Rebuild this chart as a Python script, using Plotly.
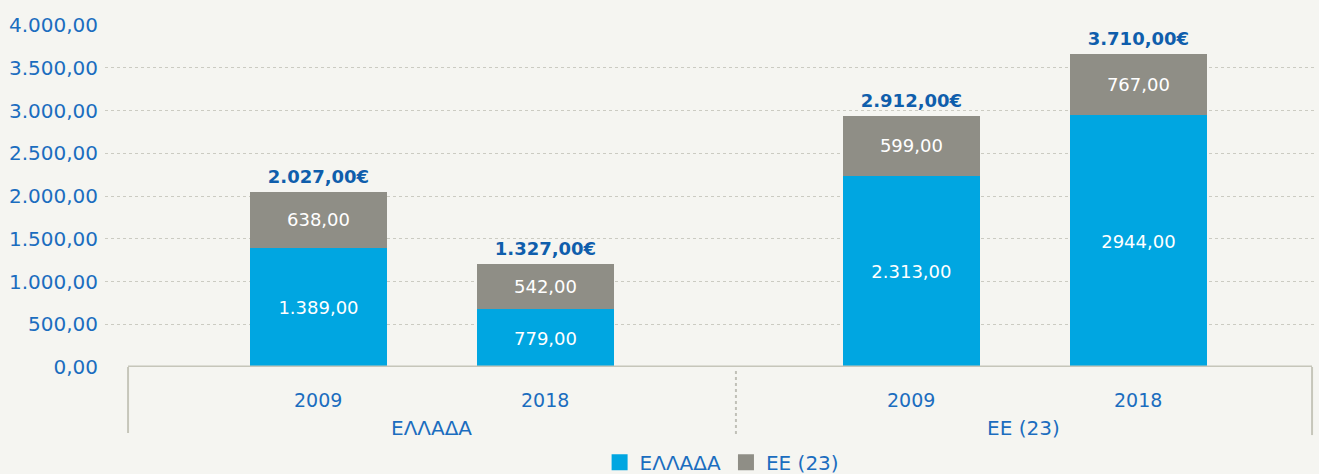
import plotly.graph_objects as go

# ---- data ----
groups = ["ΕΛΛΑΔΑ", "ΕΕ (23)"]
years = ["2009", "2018"]
series_names = ["ΕΛΛΑΔΑ", "ΕΕ (23)"]
# bar segment heights as drawn in the reference (order: ΕΛΛΑΔΑ 2009, ΕΛΛΑΔΑ 2018, ΕΕ 2009, ΕΕ 2018)
greece_part = [1393, 676, 2237, 2947]
eu_part = [653, 527, 699, 715]
# labels printed on the reference
greece_labels = ["1.389,00", "779,00", "2.313,00", "2944,00"]
eu_labels = ["638,00", "542,00", "599,00", "767,00"]
total_labels = ["2.027,00€", "1.327,00€", "2.912,00€", "3.710,00€"]
y_ticks = [0, 500, 1000, 1500, 2000, 2500, 3000, 3500, 4000]

# ---- style ----
BLUE = "#00a6e1"
GREY = "#8f8e86"
TXT = "#1b6dbf"
TOT = "#0f5eac"
BG = "#f5f5f1"
FONT = "DejaVu Sans"
COLORS = [BLUE, GREY]

group_step = 2.612
xpos = [g * group_step + i for g in range(len(groups)) for i in range(len(years))]
totals = [a + b for a, b in zip(greece_part, eu_part)]

fig = go.Figure()
for vals, labels, name, col in zip([greece_part, eu_part], [greece_labels, eu_labels],
                                   series_names, COLORS):
    fig.add_trace(go.Bar(
        x=xpos, y=vals, name=name, marker=dict(color=col, line=dict(width=0)),
        width=0.6035, text=labels, textposition="inside", insidetextanchor="middle",
        textfont=dict(color="white", size=18, family=FONT), textangle=0,
        constraintext="none", hoverinfo="skip", showlegend=False))

fig.add_trace(go.Scatter(
    x=xpos, y=totals, mode="markers+text", text=total_labels, textposition="top center",
    marker=dict(size=6, opacity=0),
    textfont=dict(color=TOT, size=18, family=FONT, weight="bold"), showlegend=False,
    hoverinfo="skip"))

# legend entries (square swatches like the reference)
for name, col in zip(series_names, COLORS):
    fig.add_trace(go.Scatter(
        x=[None], y=[None], mode="markers", name=name,
        marker=dict(symbol="square", size=16, color=col), showlegend=True))

left_edge = xpos[0] - 0.839
divider = xpos[1] + 0.839
right_edge = xpos[3] + 0.765

annotations = []
for x, yr in zip(xpos, years * len(groups)):
    annotations.append(dict(x=x, y=-0.0965, xref="x", yref="paper", text=yr, showarrow=False,
                            yanchor="middle", font=dict(color=TXT, size=19, family=FONT)))
for gname, cx in zip(groups, [(left_edge + divider) / 2, (divider + right_edge) / 2]):
    annotations.append(dict(x=cx, y=-0.178, xref="x", yref="paper", text=gname, showarrow=False,
                            yanchor="middle", font=dict(color=TXT, size=20, family=FONT)))

shapes = [
    dict(type="line", xref="x", yref="y", x0=left_edge, x1=right_edge, y0=0, y1=0,
         line=dict(color="#c6c6ba", width=3)),
    dict(type="line", xref="x", yref="paper", x0=left_edge, x1=left_edge, y0=0, y1=-0.193,
         line=dict(color="#c6c6ba", width=2)),
    dict(type="line", xref="x", yref="paper", x0=right_edge, x1=right_edge, y0=0, y1=-0.199,
         line=dict(color="#c6c6ba", width=2)),
    dict(type="line", xref="x", yref="paper", x0=divider, x1=divider, y0=-0.012, y1=-0.199,
         line=dict(color="#c0c0b8", width=2, dash="dot")),
]

fig.update_layout(
    width=1319, height=474,
    margin=dict(l=105, r=4, t=25, b=107),
    paper_bgcolor=BG, plot_bgcolor=BG,
    barmode="stack", separators=",.",
    font=dict(family=FONT, color=TXT, size=18),
    xaxis=dict(range=[-0.9405, 4.390], showgrid=False, zeroline=False, showticklabels=False,
               ticks="", showline=False, fixedrange=True),
    yaxis=dict(range=[0, 4000], tickvals=y_ticks, tickformat=",.2f", showgrid=True,
               gridcolor="#cbcbc2", griddash="dot", gridwidth=1, zeroline=False,
               ticks="", ticklabelstandoff=6, tickfont=dict(color=TXT, size=20, family=FONT),
               showline=False, fixedrange=True),
    legend=dict(orientation="h", xanchor="center", x=0.51, yref="container",
                yanchor="middle", y=0.025, traceorder="normal", itemsizing="trace",
                font=dict(color=TXT, size=20, family=FONT), bgcolor="rgba(0,0,0,0)",
                itemclick=False, itemdoubleclick=False),
    annotations=annotations, shapes=shapes,
    showlegend=True,
    hovermode=False,
)

post = (
    "document.documentElement.style.margin='0';"
    "document.body.style.margin='0';"
    "document.body.style.overflow='hidden';"
    "document.body.style.background='" + BG + "';"
)

fig.write_html("out.html", post_script=post,
               config={"displayModeBar": False, "staticPlot": True})
